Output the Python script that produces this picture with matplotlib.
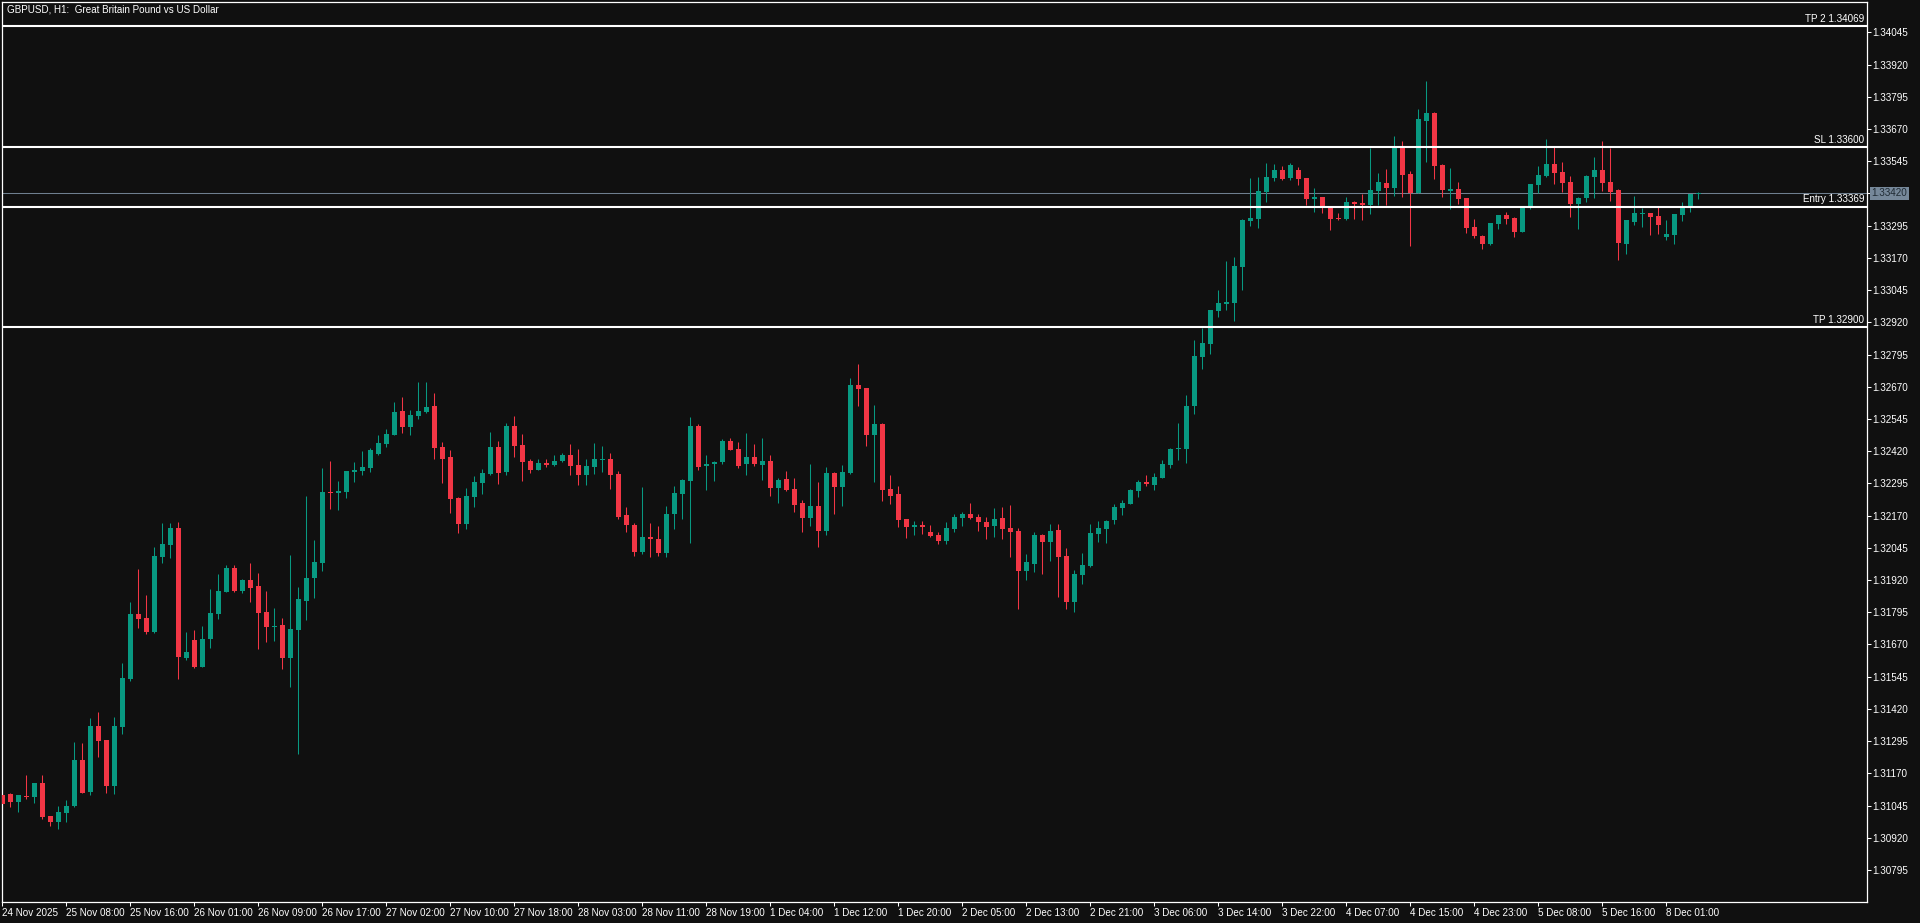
import numpy as np
import matplotlib
matplotlib.use("Agg")
import matplotlib.pyplot as plt

# GBPUSD H1, harga dalam point (1 point = 0.00001)
opens = [131086, 131090, 131060, 131083, 131079, 131132, 131004, 130982, 131017, 131044,
         131222, 131099, 131354, 131299, 131122, 131351, 131537, 131788, 131773, 131719,
         132010, 132057, 132122, 131619, 131686, 131584, 131691, 131789, 131875, 131967,
         131879, 131920, 131897, 131796, 131738, 131745, 131619, 131727, 131840, 131928,
         131987, 132261, 132259, 132263, 132340, 132344, 132356, 132410, 132449, 132484,
         132576, 132515, 132558, 132573, 132595, 132436, 132397, 132238, 132139, 132243,
         132298, 132331, 132436, 132340, 132517, 132444, 132382, 132348, 132374, 132367,
         132382, 132405, 132366, 132327, 132358, 132386, 132389, 132331, 132172, 132133,
         132030, 132087, 132080, 132025, 132176, 132254, 132304, 132517, 132362, 132370,
         132378, 132459, 132428, 132370, 132397, 132366, 132382, 132277, 132312, 132273,
         132219, 132161, 132207, 132110, 132335, 132281, 132335, 132677, 132665, 132483,
         132525, 132273, 132254, 132157, 132126, 132133, 132106, 132094, 132070, 132118,
         132161, 132176, 132164, 132145, 132130, 132161, 132122, 132110, 131955, 131982,
         132095, 132067, 132114, 132013, 131835, 131939, 131974, 132098, 132118, 132153,
         132199, 132215, 132265, 132300, 132289, 132316, 132366, 132428, 132428, 132595,
         132785, 132836, 132964, 132991, 132995, 133134, 133313, 133321, 133425, 133480,
         133511, 133480, 133511, 133480, 133398, 133406, 133372, 133325, 133321, 133387,
         133383, 133375, 133429, 133460, 133441, 133600, 133495, 133422, 133701, 133732,
         133530, 133429, 133437, 133402, 133290, 133255, 133224, 133301, 133336, 133325,
         133270, 133363, 133453, 133487, 133534, 133503, 133464, 133379, 133402, 133484,
         133511, 133464, 133433, 133224, 133309, 133340, 133344, 133332, 133251, 133259,
         133336, 133371, 133416]
highs = [131090, 131094, 131086, 131163, 131132, 131163, 131004, 131043, 131066, 131291,
         131288, 131385, 131408, 131299, 131388, 131598, 131835, 131963, 131862, 132048,
         132141, 132141, 132145, 131718, 131726, 131742, 131885, 131943, 131977, 131977,
         131924, 131986, 131947, 131877, 131811, 131773, 132017, 131893, 132246, 132075,
         132355, 132382, 132304, 132343, 132378, 132420, 132432, 132483, 132506, 132611,
         132630, 132580, 132688, 132688, 132646, 132455, 132424, 132242, 132277, 132323,
         132351, 132494, 132459, 132529, 132556, 132486, 132389, 132389, 132389, 132405,
         132413, 132448, 132428, 132389, 132452, 132440, 132413, 132343, 132203, 132141,
         132282, 132141, 132130, 132207, 132285, 132312, 132552, 132525, 132405, 132382,
         132467, 132471, 132455, 132490, 132448, 132471, 132405, 132316, 132343, 132316,
         132230, 132370, 132300, 132358, 132339, 132366, 132704, 132758, 132665, 132599,
         132529, 132327, 132285, 132157, 132149, 132149, 132133, 132106, 132145, 132176,
         132184, 132219, 132176, 132164, 132199, 132203, 132211, 132122, 132021, 132106,
         132098, 132137, 132137, 132044, 131959, 132025, 132137, 132149, 132153, 132215,
         132230, 132273, 132308, 132327, 132335, 132386, 132432, 132529, 132638, 132851,
         132898, 132968, 133045, 133158, 133173, 133321, 133480, 133484, 133538, 133534,
         133526, 133538, 133522, 133480, 133441, 133406, 133372, 133344, 133406, 133390,
         133418, 133596, 133499, 133515, 133643, 133623, 133507, 133747, 133856, 133736,
         133534, 133519, 133464, 133402, 133321, 133259, 133305, 133336, 133348, 133328,
         133371, 133456, 133526, 133631, 133600, 133542, 133487, 133406, 133491, 133561,
         133623, 133596, 133437, 133317, 133410, 133363, 133344, 133367, 133317, 133340,
         133387, 133418, 133425]
lows = [131050, 131040, 131021, 131072, 131056, 130994, 130967, 130955, 130982, 131040,
        131095, 131087, 131235, 131095, 131091, 131324, 131529, 131735, 131712, 131716,
        131987, 132007, 131537, 131611, 131580, 131584, 131657, 131770, 131875, 131873,
        131871, 131836, 131654, 131681, 131685, 131576, 131506, 131246, 131766, 131851,
        131956, 132197, 132193, 132239, 132301, 132327, 132340, 132406, 132437, 132484,
        132492, 132484, 132546, 132569, 132391, 132298, 132181, 132104, 132119, 132205,
        132255, 132329, 132294, 132329, 132398, 132305, 132336, 132348, 132360, 132364,
        132378, 132327, 132289, 132289, 132331, 132339, 132273, 132157, 132106, 132015,
        132020, 132010, 132015, 132010, 132118, 132157, 132064, 132347, 132269, 132304,
        132370, 132424, 132355, 132327, 132362, 132308, 132246, 132219, 132265, 132184,
        132106, 132130, 132050, 132095, 132176, 132207, 132332, 132595, 132440, 132300,
        132226, 132215, 132126, 132083, 132095, 132098, 132087, 132060, 132060, 132106,
        132130, 132157, 132110, 132079, 132087, 132079, 132009, 131807, 131920, 131951,
        131943, 131994, 131854, 131807, 131796, 131904, 131970, 132067, 132064, 132137,
        132172, 132215, 132242, 132285, 132269, 132316, 132355, 132386, 132374, 132564,
        132739, 132797, 132940, 132968, 132925, 133045, 133293, 133286, 133387, 133468,
        133472, 133472, 133453, 133375, 133348, 133344, 133278, 133317, 133317, 133321,
        133317, 133340, 133375, 133375, 133410, 133406, 133216, 133422, 133542, 133476,
        133406, 133359, 133379, 133266, 133247, 133204, 133220, 133282, 133301, 133251,
        133270, 133359, 133422, 133484, 133456, 133425, 133328, 133282, 133387, 133402,
        133429, 133390, 133162, 133185, 133297, 133290, 133259, 133262, 133239, 133224,
        133313, 133348, 133398]
closes = [131052, 131060, 131086, 131079, 131132, 131002, 130982, 131020, 131043, 131222,
          131095, 131354, 131297, 131122, 131354, 131540, 131788, 131770, 131719, 132013,
          132060, 132122, 131623, 131641, 131584, 131691, 131792, 131877, 131967, 131877,
          131920, 131890, 131793, 131739, 131742, 131619, 131730, 131846, 131928, 131990,
          132261, 132258, 132265, 132343, 132347, 132358, 132424, 132452, 132486, 132572,
          132515, 132560, 132576, 132591, 132433, 132391, 132236, 132139, 132246, 132300,
          132335, 132436, 132336, 132517, 132441, 132379, 132348, 132374, 132366, 132382,
          132405, 132362, 132327, 132362, 132389, 132389, 132327, 132164, 132133, 132030,
          132087, 132080, 132025, 132176, 132258, 132308, 132517, 132358, 132370, 132378,
          132459, 132424, 132362, 132397, 132370, 132382, 132277, 132308, 132269, 132211,
          132161, 132207, 132110, 132335, 132281, 132339, 132677, 132661, 132483, 132525,
          132269, 132246, 132153, 132126, 132133, 132126, 132091, 132070, 132121, 132164,
          132176, 132161, 132145, 132126, 132157, 132118, 132106, 131955, 131990, 132095,
          132067, 132110, 132009, 131835, 131943, 131978, 132102, 132122, 132149, 132203,
          132219, 132269, 132300, 132292, 132320, 132370, 132428, 132432, 132595, 132789,
          132840, 132968, 132995, 132999, 133138, 133317, 133325, 133429, 133484, 133511,
          133476, 133530, 133476, 133398, 133406, 133372, 133321, 133321, 133387, 133379,
          133375, 133433, 133464, 133441, 133600, 133491, 133422, 133709, 133732, 133526,
          133433, 133437, 133398, 133286, 133255, 133224, 133305, 133336, 133321, 133270,
          133371, 133456, 133491, 133534, 133499, 133460, 133379, 133402, 133487, 133511,
          133460, 133425, 133228, 133317, 133344, 133344, 133328, 133297, 133262, 133340,
          133367, 133418, 133420]

# label waktu (tiap 8 bar)
time_labels = ['24 Nov 2025', '25 Nov 08:00', '25 Nov 16:00', '26 Nov 01:00', '26 Nov 09:00',
               '26 Nov 17:00', '27 Nov 02:00', '27 Nov 10:00', '27 Nov 18:00', '28 Nov 03:00',
               '28 Nov 11:00', '28 Nov 19:00', '1 Dec 04:00', '1 Dec 12:00', '1 Dec 20:00',
               '2 Dec 05:00', '2 Dec 13:00', '2 Dec 21:00', '3 Dec 06:00', '3 Dec 14:00',
               '3 Dec 22:00', '4 Dec 07:00', '4 Dec 15:00', '4 Dec 23:00', '5 Dec 08:00',
               '5 Dec 16:00', '8 Dec 01:00']
label_step = 8

# garis level
level_names = ['TP 2', 'SL', 'Entry', 'TP']
level_prices = [1.34069, 1.33600, 1.33369, 1.32900]
current_price = 1.33420

# tick harga sumbu kanan
price_ticks = [1.30795 + 0.00125 * k for k in range(27)]

o = np.array(opens) / 1e5
h = np.array(highs) / 1e5
l = np.array(lows) / 1e5
c = np.array(closes) / 1e5
x = np.arange(len(o))

bg = '#101010'
green = '#089981'
red = '#f23645'
font = 'Liberation Sans'
fs = 7.1

fig = plt.figure(figsize=(19.2, 9.23), dpi=100, facecolor=bg)
ax = fig.add_axes([2 / 1920, 21 / 923, 1865 / 1920, 900 / 923])
ax.set_facecolor(bg)

warna = [green if cc >= oo else red for oo, cc in zip(o, c)]
one_px = 0.0000388
body_bottom = np.minimum(o, c)
body_height = np.maximum(np.abs(c - o), one_px)

ax.vlines(x, l, h, colors=warna, linewidth=0.75, zorder=2)
ax.bar(x, body_height, bottom=body_bottom, width=0.625, color=warna, linewidth=0, zorder=3)

# garis harga sekarang
ax.axhline(current_price, color='#6f7f8f', linewidth=0.75, zorder=1)

# garis TP / SL / Entry
for nama, harga in zip(level_names, level_prices):
    ax.axhline(harga, color='white', linewidth=1.5, zorder=4)
    ax.annotate(f'{nama} {harga:.5f}', xy=(1.0, harga), xycoords=('axes fraction', 'data'),
                xytext=(-2, 1.5), textcoords='offset points', ha='right', va='bottom',
                color='white', fontsize=fs, family=font)

ax.set_xlim(-0.04, 233.1)
ax.set_ylim(1.306709, 1.341626)

# sumbu kanan
ax.yaxis.tick_right()
ax.set_yticks(price_ticks)
ax.set_yticklabels([f'{p:.5f}' for p in price_ticks])
ax.tick_params(axis='y', colors='white', length=3, width=0.75, pad=1, labelsize=fs)

# sumbu bawah
ax.set_xticks(np.arange(len(time_labels)) * label_step)
ax.set_xticklabels(time_labels)
ax.tick_params(axis='x', colors='white', length=3, width=0.75, pad=1, labelsize=fs)
for t in ax.get_xticklabels() + ax.get_yticklabels():
    t.set_family(font)
for t in ax.get_xticklabels():
    t.set_horizontalalignment('left')

for s in ax.spines.values():
    s.set_color('white')
    s.set_linewidth(0.9)

# kotak harga sekarang
ax.annotate(f'{current_price:.5f}', xy=(1.0, current_price), xycoords=('axes fraction', 'data'),
            xytext=(3.2, 0), textcoords='offset points', ha='left', va='center',
            color='#1f2a33', fontsize=fs, family=font,
            bbox=dict(boxstyle='square,pad=0.15', facecolor='#76889a', edgecolor='none'))

fig.text(7 / 1920, 1 - 9 / 923, 'GBPUSD, H1:  Great Britain Pound vs US Dollar',
         color='white', fontsize=fs, family=font, va='center', ha='left')

fig.savefig('out.png', dpi=100, facecolor=bg)
